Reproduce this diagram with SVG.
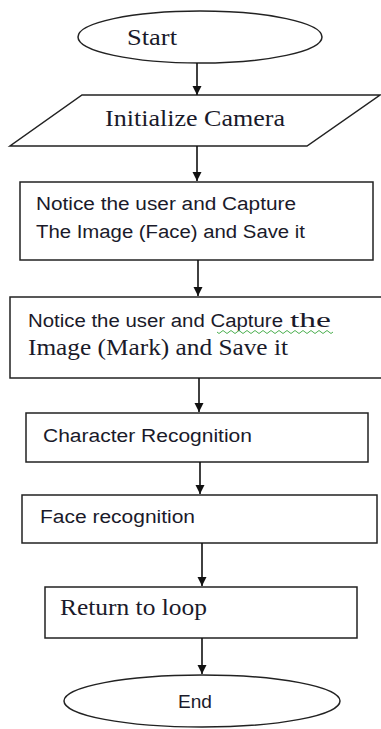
<svg xmlns="http://www.w3.org/2000/svg" width="381" height="729" viewBox="0 0 381 729">
<defs>
<marker id="ah" markerWidth="10" markerHeight="10" refX="9" refY="5" orient="auto" markerUnits="userSpaceOnUse">
<path d="M0,0.5 L9,5 L0,9.5 Z" fill="#111"/>
</marker>
<style>
.shape{fill:#fff;stroke:#222;stroke-width:1.5}
.sans{font-family:"Liberation Sans","Open Sans",sans-serif;font-size:18px;fill:#1a1a2a}
.serif{font-family:"Liberation Serif","DejaVu Serif",serif;font-size:23px;fill:#1a1a2a}
.conn line{stroke:#111;stroke-width:1.6;marker-end:url(#ah)}
</style>
</defs>
<rect width="381" height="729" fill="#fff"/>
<g id="start">
<ellipse class="shape" cx="200" cy="37" rx="122" ry="26"/>
<text class="serif" x="127" y="45" textLength="50" lengthAdjust="spacingAndGlyphs">Start</text>
</g>
<g id="init">
<polygon class="shape" points="82,95 380,95 307,146 10,146"/>
<text class="serif" x="105" y="126" textLength="180" lengthAdjust="spacingAndGlyphs">Initialize Camera</text>
</g>
<g id="face-capture">
<rect class="shape" x="20" y="182" width="353" height="78"/>
<text class="sans" x="36" y="210" textLength="260" lengthAdjust="spacingAndGlyphs">Notice the user and Capture</text>
<text class="sans" x="36" y="238" textLength="269" lengthAdjust="spacingAndGlyphs">The Image (Face) and Save it</text>
</g>
<g id="mark-capture">
<rect class="shape" x="10" y="297" width="380" height="81"/>
<text class="sans" x="28" y="327" textLength="255" lengthAdjust="spacingAndGlyphs">Notice the user and Capture</text>
<text class="serif" x="290" y="327" textLength="41" lengthAdjust="spacingAndGlyphs" style="font-size:21px">the</text>
<path d="M217,332 q2,3 4,0 t4,0 t4,0 t4,0 t4,0 t4,0 t4,0 t4,0 t4,0 t4,0 t4,0 t4,0 t4,0 t4,0 t4,0 t4,0 t4,0 t4,0 t4,0 t4,0 t4,0 t4,0 t4,0 t4,0 t4,0 t4,0 t4,0 t4,0 t4,0" fill="none" stroke="#4caf50" stroke-width="1"/>
<text class="serif" x="28" y="355" textLength="260" lengthAdjust="spacingAndGlyphs">Image (Mark) and Save it</text>
</g>
<g id="char-rec">
<rect class="shape" x="26" y="413" width="342" height="49"/>
<text class="sans" x="43" y="442" textLength="209" lengthAdjust="spacingAndGlyphs">Character Recognition</text>
</g>
<g id="face-rec">
<rect class="shape" x="22" y="495" width="355" height="48"/>
<text class="sans" x="40" y="523" textLength="155" lengthAdjust="spacingAndGlyphs">Face recognition</text>
</g>
<g id="return">
<rect class="shape" x="45" y="587" width="312" height="51"/>
<text class="serif" x="60" y="615" textLength="147" lengthAdjust="spacingAndGlyphs">Return to loop</text>
</g>
<g id="end">
<ellipse class="shape" cx="202" cy="701" rx="138" ry="26"/>
<text class="sans" x="178" y="708" textLength="34" lengthAdjust="spacingAndGlyphs">End</text>
</g>
<g class="conn">
<line x1="197" y1="63" x2="197" y2="95"/>
<line x1="197" y1="146" x2="197" y2="181"/>
<line x1="198" y1="260" x2="198" y2="296"/>
<line x1="199" y1="378" x2="199" y2="412"/>
<line x1="200" y1="462" x2="200" y2="494"/>
<line x1="202" y1="543" x2="202" y2="586"/>
<line x1="202" y1="638" x2="202" y2="674"/>
</g>
</svg>
